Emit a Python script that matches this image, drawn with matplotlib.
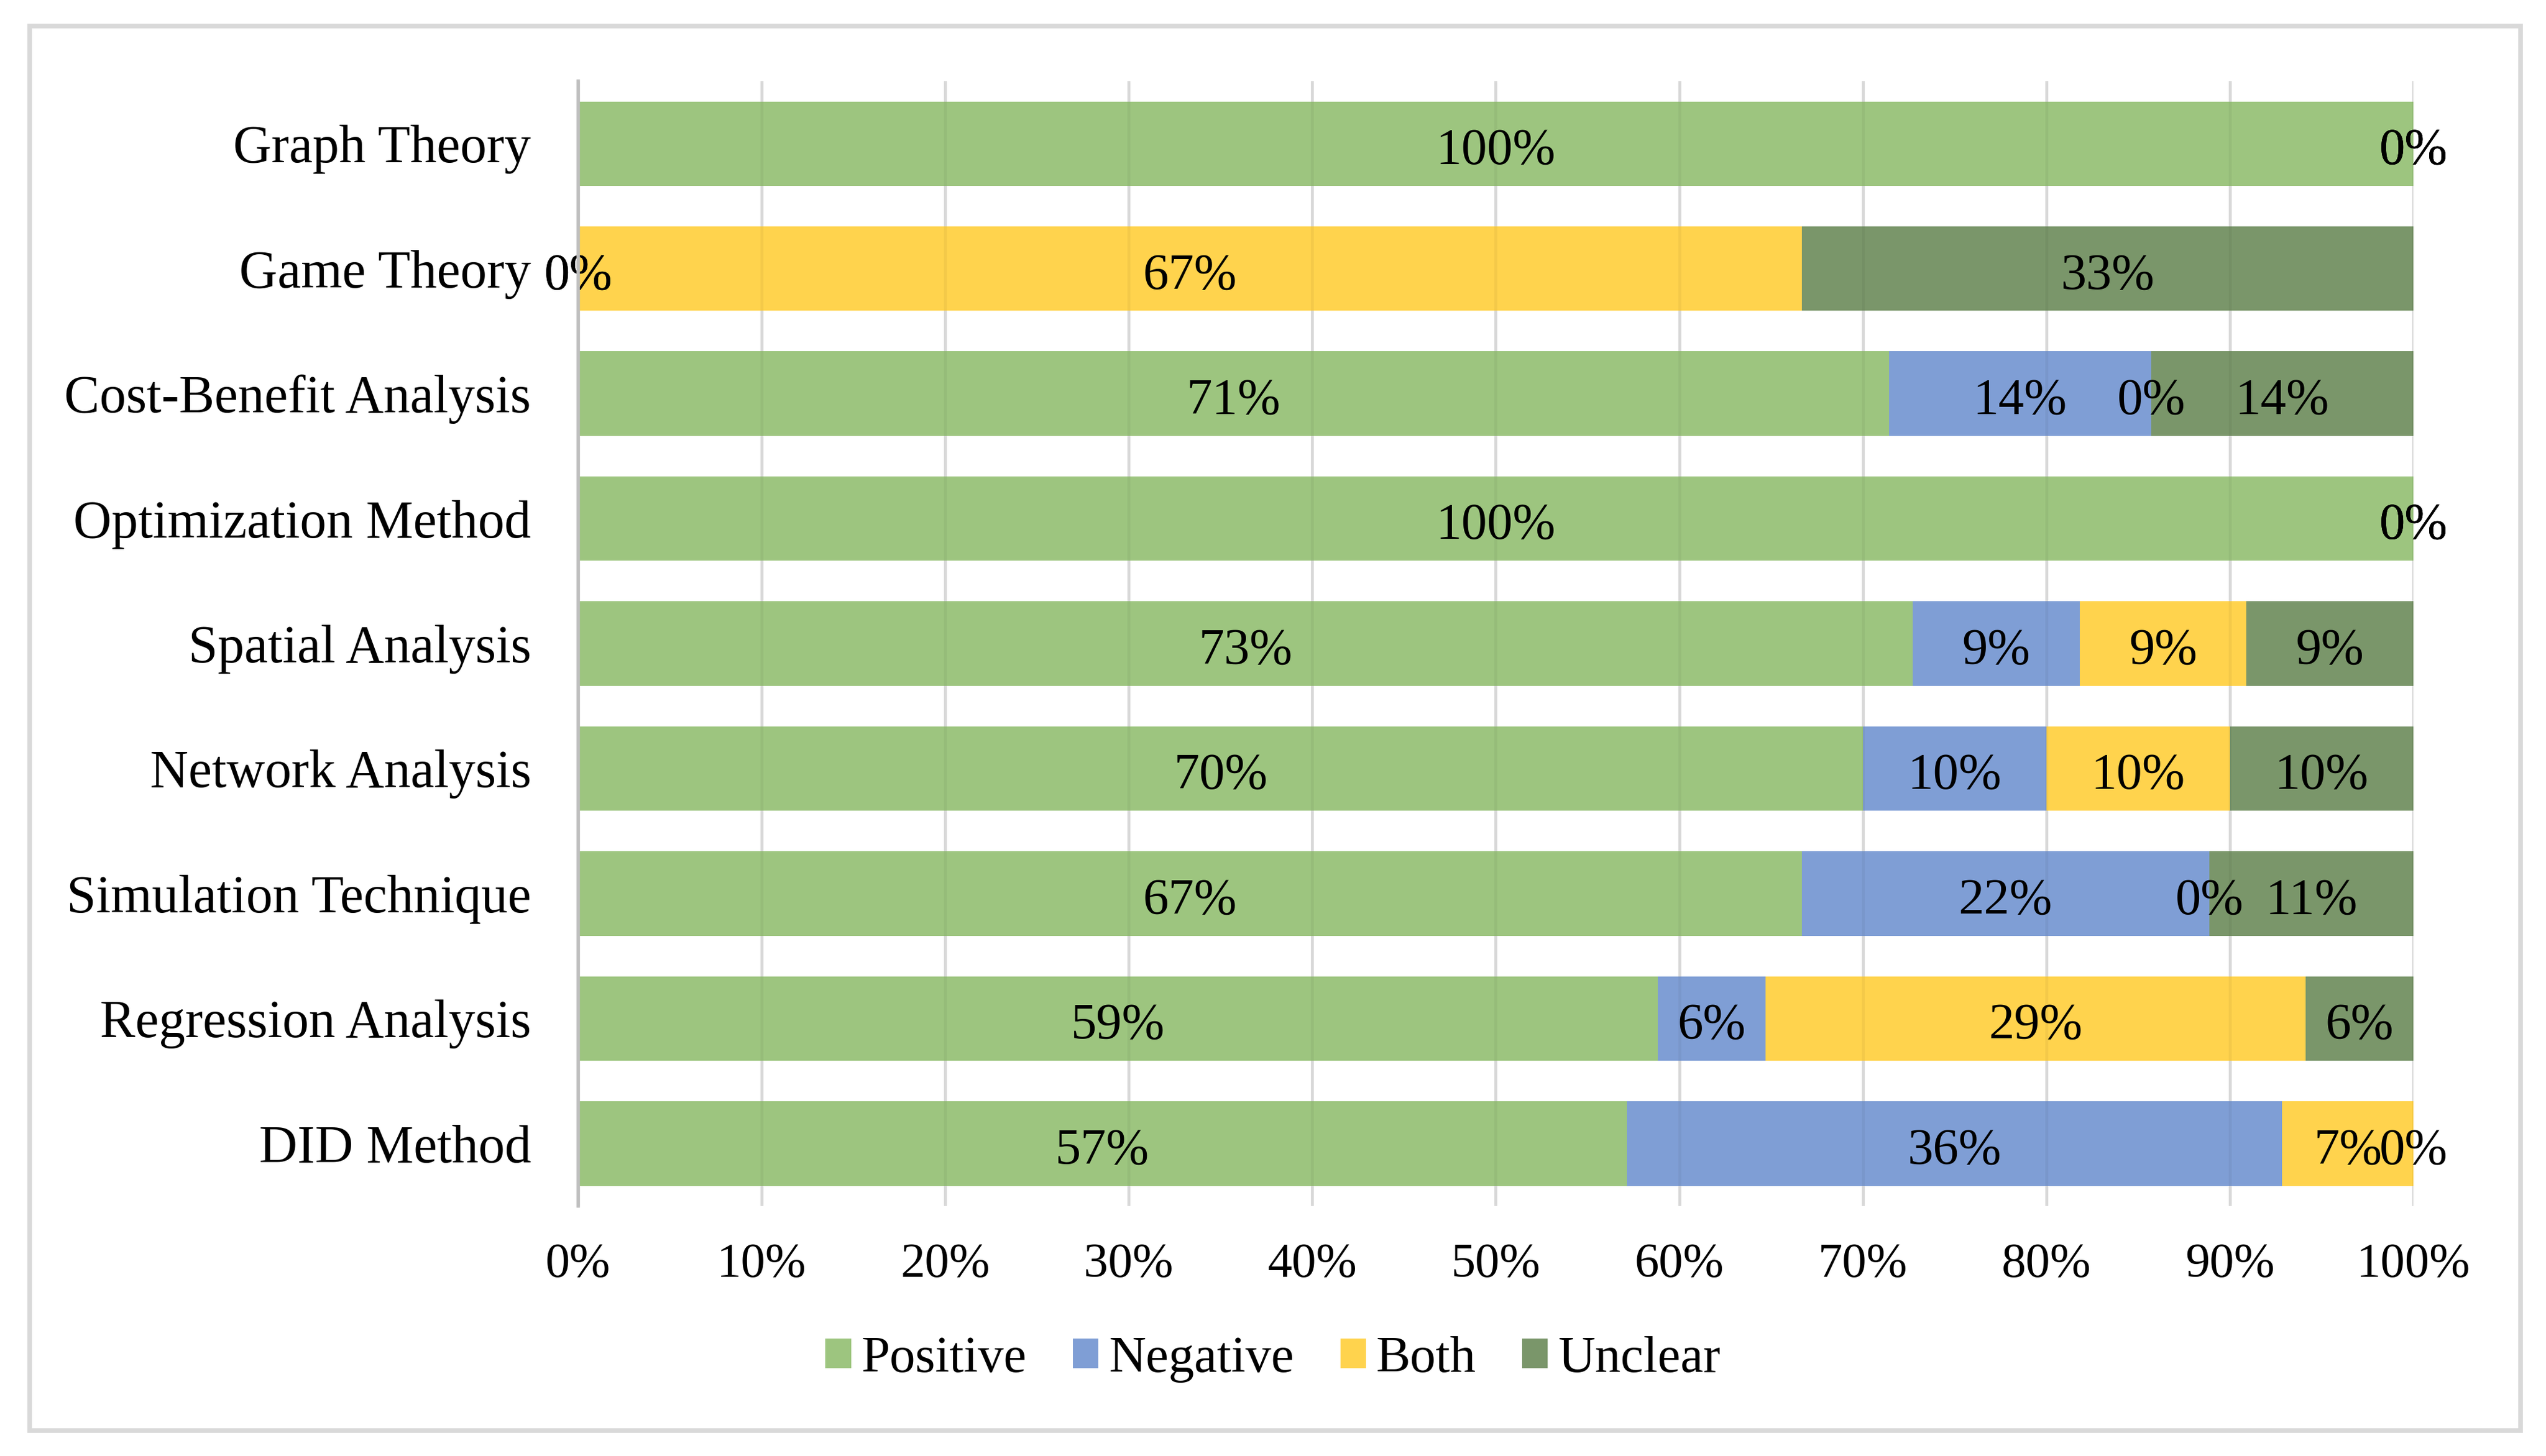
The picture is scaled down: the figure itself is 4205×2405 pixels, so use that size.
import numpy as np
import matplotlib
matplotlib.use('Agg')
import matplotlib.pyplot as plt
from matplotlib.patches import Rectangle
from matplotlib.ticker import PercentFormatter

# Data (shares, top row first)
methods = ['Graph Theory', 'Game Theory', 'Cost-Benefit Analysis', 'Optimization Method',
           'Spatial Analysis', 'Network Analysis', 'Simulation Technique',
           'Regression Analysis', 'DID Method']
positive = [1.0, 0.0, 5/7, 1.0, 8/11, 0.70, 6/9, 10/17, 8/14]
negative = [0.0, 0.0, 1/7, 0.0, 1/11, 0.10, 2/9, 1/17, 5/14]
both = [0.0, 2/3, 0.0, 0.0, 1/11, 0.10, 0.0, 5/17, 1/14]
unclear = [0.0, 1/3, 1/7, 0.0, 1/11, 0.10, 1/9, 1/17, 0.0]

series = ['Positive', 'Negative', 'Both', 'Unclear']
colors = ['#9DC57F', '#7F9ED5', '#FFD34D', '#7A966A']

plt.rcParams['font.family'] = ['Liberation Serif', 'DejaVu Serif']
fs = 61

fig = plt.figure(figsize=(42.05, 24.05), dpi=100)
ax = fig.add_axes([0.2271, 0.1717, 0.7208, 0.7726])

y = np.arange(len(methods))
left = np.zeros(len(methods))
handles = []
for name, vals, c in zip(series, [positive, negative, both, unclear], colors):
    vals = np.array(vals)
    b = ax.barh(y, vals, left=left, height=0.675, color=c, label=name, zorder=2)
    handles.append(b)
    for yi, l, v in zip(y, left, vals):
        ax.text(l + v / 2, yi + 0.02, f'{v*100:.0f}%', ha='center', va='center_baseline',
                fontsize=fs, color='black', zorder=4)
    left = left + vals

ax.set_ylim(len(methods) - 0.5, -0.5)
ax.set_xlim(0, 1)
ax.set_yticks(y)
ax.set_yticklabels(methods, fontsize=63)
ax.set_xticks(np.arange(0, 1.01, 0.1))
ax.xaxis.set_major_formatter(PercentFormatter(1.0, decimals=0))
ax.tick_params(axis='x', labelsize=58, length=0, pad=44)
ax.tick_params(axis='y', length=0, pad=56)
ax.grid(axis='x', color='#E2E2E2', linewidth=3.5, zorder=1)
ax.set_axisbelow(True)
# faint grid showing through the bars
for xv in np.arange(0.1, 1.01, 0.1):
    ax.axvline(xv, color='black', alpha=0.045, linewidth=3.5, zorder=3)

for s in ['top', 'right', 'bottom']:
    ax.spines[s].set_visible(False)
ax.spines['left'].set_color('#BFBFBF')
ax.spines['left'].set_linewidth(4)
ax.spines['left'].set_zorder(5)

fig.legend(handles=handles, labels=series, loc='center', bbox_to_anchor=(0.5, 0.0665),
           ncol=4, frameon=False, fontsize=fs, handlelength=0.5, handleheight=0.5,
           handletextpad=0.2, columnspacing=0.9)

# light grey frame around the chart
fig.patches.append(Rectangle((49 / 4205, 1 - 2363 / 2405), (4163 - 49) / 4205,
                             (2363 - 43) / 2405, transform=fig.transFigure,
                             fill=False, edgecolor='#D9D9D9', linewidth=5.5))

plt.savefig('out.png', dpi=100)
plt.close()
